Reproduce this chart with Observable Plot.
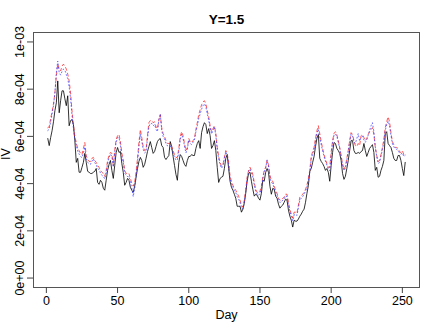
<!DOCTYPE html>
<html>
<head>
<meta charset="utf-8">
<script src="https://cdn.jsdelivr.net/npm/d3@7"></script>
<script src="https://cdn.jsdelivr.net/npm/@observablehq/plot@0.6"></script>
<style>
  html, body { margin: 0; padding: 0; background: #fff; }
  #chart svg { display: block; }
</style>
</head>
<body>
<div id="chart"></div>
<script>
// Values in units of 1e-4
const ivBlack = [
5.91,5.61,5.95,6.24,6.62,7.09,7.42,8.35,7.00,7.51,
7.93,7.93,7.59,7.30,7.72,6.45,6.67,6.71,6.50,5.82,
4.90,5.07,4.48,4.48,4.69,4.90,5.28,4.90,4.52,4.48,
4.43,4.43,4.48,4.52,4.64,4.05,3.97,4.14,4.05,3.80,
3.72,4.14,4.56,4.81,4.98,4.56,4.22,4.77,5.32,5.53,
5.32,5.36,4.85,4.48,3.93,4.05,4.22,4.14,3.84,3.72,
3.63,3.89,4.27,4.64,4.94,5.11,4.98,4.69,4.81,5.07,
5.36,5.57,5.78,5.53,5.28,5.36,5.57,5.78,5.87,5.91,
5.61,5.53,5.11,5.02,5.11,5.19,5.78,5.57,5.15,4.77,
4.39,4.14,4.90,5.23,5.15,4.98,4.81,4.73,4.98,5.15,
5.15,5.23,5.19,5.19,5.49,5.70,5.82,5.49,6.16,6.41,
6.58,6.50,6.12,6.33,6.03,5.49,5.61,5.82,5.40,4.69,
4.05,4.22,4.27,4.31,4.64,5.07,5.23,4.64,4.10,3.84,
3.72,3.55,3.38,3.04,3.04,3.04,2.79,2.92,3.17,3.59,
4.10,4.43,4.48,4.10,3.76,3.47,3.55,3.51,3.38,3.30,
3.59,4.14,4.10,4.48,4.64,4.48,3.89,3.55,3.80,3.76,
3.47,3.38,3.13,2.96,3.04,3.09,3.21,3.34,3.30,2.88,
2.62,2.45,2.16,2.45,2.41,2.41,2.50,2.62,2.71,2.83,
2.92,3.21,3.59,3.93,4.52,4.64,4.90,5.15,5.57,5.91,
6.08,5.07,4.94,4.85,4.73,4.56,4.64,4.48,4.10,4.77,
5.32,5.74,5.70,5.49,5.40,5.28,4.98,4.43,4.18,4.31,
4.64,4.98,5.40,5.82,5.82,5.40,5.28,5.28,5.32,5.28,
5.36,5.40,5.70,5.40,5.15,5.32,5.49,5.57,5.65,5.32,
4.56,4.69,4.27,4.31,4.56,4.73,4.98,6.12,6.20,5.70,
5.61,5.53,5.32,5.07,4.98,4.98,5.19,5.19,4.98,4.64,
4.34,4.90];

const ivRed = [
6.37,6.41,6.75,7.04,7.38,7.84,8.56,9.06,8.85,8.77,
8.98,9.06,8.98,8.85,8.64,8.35,7.84,7.09,6.50,6.00,
5.74,5.49,5.40,5.28,5.23,5.49,5.74,5.19,5.02,4.94,
4.94,5.07,5.11,4.98,4.90,4.77,4.69,4.56,4.48,4.43,
4.31,4.56,4.98,5.19,5.32,5.28,4.77,5.40,5.87,6.03,
6.08,5.78,5.28,5.02,4.56,4.43,4.43,4.43,4.22,4.01,
3.89,4.05,4.48,5.07,5.74,6.29,5.95,5.57,5.40,5.44,
6.03,6.58,6.67,6.67,6.58,6.62,6.41,6.33,6.71,6.92,
6.37,6.12,5.99,5.82,5.70,5.70,5.70,5.57,5.40,5.23,
5.11,5.11,5.49,5.99,6.20,6.03,5.70,5.40,5.53,5.91,
5.78,5.74,5.82,5.91,6.29,6.58,6.92,7.13,7.34,7.46,
7.51,7.38,7.09,6.83,6.45,6.20,6.33,6.45,6.12,5.53,
5.15,4.90,4.73,4.81,5.11,5.40,5.28,4.90,4.31,4.10,
3.93,3.80,3.72,3.59,3.47,3.30,3.09,3.00,3.30,3.72,
4.27,4.56,4.69,4.56,4.39,4.05,3.76,3.63,3.59,3.68,
3.89,4.27,4.56,4.69,4.98,4.81,4.35,4.14,4.10,3.89,
3.72,3.59,3.38,3.30,3.30,3.38,3.42,3.55,3.55,3.21,
2.92,2.71,2.54,2.79,2.79,2.75,3.09,3.42,3.47,3.55,
3.63,3.76,3.93,4.22,4.56,5.15,5.36,5.53,5.91,6.24,
6.45,6.12,5.78,5.49,5.23,5.02,4.85,4.69,4.69,5.32,
5.82,6.12,6.20,6.08,5.82,5.53,5.19,4.85,4.60,4.73,
5.07,5.40,5.82,6.16,6.08,5.82,5.61,5.57,5.70,5.61,
6.03,6.08,5.95,5.82,5.91,6.08,6.20,6.29,6.37,6.08,
5.53,5.19,4.94,4.98,5.23,5.53,5.87,6.37,6.62,6.83,
6.62,6.16,5.78,5.65,5.53,5.53,5.49,5.36,5.32,5.40,
5.23,5.32];

const ivBlue = [
6.25,6.30,6.62,6.95,7.30,7.85,8.70,9.19,8.70,8.60,
8.75,8.85,8.80,8.62,8.45,8.10,7.60,6.90,6.35,5.88,
5.62,5.38,5.25,5.15,5.10,5.30,5.55,5.05,4.90,4.85,
4.82,4.95,5.05,4.88,4.80,4.65,4.58,4.45,4.35,4.30,
4.20,4.45,4.85,5.10,5.25,5.15,4.70,5.30,5.75,5.95,
5.95,5.65,5.15,4.90,4.45,4.35,4.30,4.30,4.05,3.80,
3.45,3.80,4.30,4.90,5.55,6.10,5.80,5.45,5.30,5.35,
5.90,6.40,6.55,6.55,6.45,6.50,6.30,6.20,6.70,6.95,
6.25,6.00,5.88,5.70,5.60,5.62,5.60,5.45,5.28,5.12,
5.00,5.00,5.35,5.85,6.10,5.90,5.60,5.30,5.45,5.85,
5.70,5.65,5.75,5.85,6.20,6.45,6.75,6.95,7.15,7.30,
7.38,7.25,6.95,6.70,6.35,6.10,6.25,6.40,6.05,5.45,
5.05,4.80,4.65,4.75,5.05,5.35,5.20,4.80,4.20,4.00,
3.85,3.70,3.62,3.45,3.35,3.20,2.98,2.92,3.20,3.65,
4.20,4.50,4.62,4.45,4.28,3.95,3.68,3.55,3.50,3.58,
3.80,4.20,4.50,4.65,5.00,4.75,4.25,4.05,4.00,3.80,
3.62,3.50,3.28,3.20,3.22,3.30,3.35,3.48,3.45,3.10,
2.82,2.62,2.42,2.68,2.70,2.65,2.98,3.30,3.38,3.45,
3.55,3.68,3.85,4.15,4.50,5.05,5.25,5.45,5.80,6.15,
6.30,5.95,5.65,5.40,5.15,4.95,4.78,4.62,4.55,5.20,
5.75,6.05,6.10,6.00,5.75,5.50,5.15,4.78,4.55,4.65,
5.00,5.35,5.78,6.10,6.00,5.75,5.70,5.90,6.12,5.80,
5.95,6.00,5.85,5.75,5.85,6.05,6.25,6.45,6.58,6.20,
5.55,5.15,4.85,4.90,5.15,5.45,5.75,6.25,6.50,6.65,
6.45,6.05,5.70,5.55,5.48,5.45,5.40,5.30,5.25,5.30,
5.15,5.20];

const xTicks = [0, 50, 100, 150, 200, 250];
const yTicks = [0, 2e-4, 4e-4, 6e-4, 8e-4, 1e-3];
const titleText = "Y=1.5";
const xLabel = "Day";
const yLabel = "IV";

const toRows = (arr) => arr.map((v, i) => ({day: i + 1, iv: v * 1e-4}));
const black = toRows(ivBlack);
const red = toRows(ivRed);
const blue = toRows(ivBlue);

const fmtExp = (d) => d.toExponential(0).replace(/e([+-])(\d)$/, "e$10$2");
const FS = 12.5;

const chart = Plot.plot({
  width: 436,
  height: 327,
  marginLeft: 33,
  marginRight: 17,
  marginTop: 32,
  marginBottom: 40,
  style: {fontFamily: "'Liberation Sans', Arial, Helvetica, sans-serif", background: "#fff", color: "#000"},
  x: {domain: [-9.04, 262.04]},
  y: {domain: [-0.4e-4, 10.4e-4]},
  marks: [
    Plot.line(black, {x: "day", y: "iv", stroke: "black", strokeWidth: 0.8}),
    Plot.line(red, {x: "day", y: "iv", stroke: "#ff2020", strokeWidth: 0.75, strokeDasharray: "3,3"}),
    Plot.line(blue, {x: "day", y: "iv", stroke: "#3030ff", strokeWidth: 0.7, strokeDasharray: "1,2.5"}),
    Plot.frame({stroke: "#555", strokeWidth: 1}),
    Plot.axisX({ticks: xTicks, tickSize: 6, tickPadding: 3, fontSize: FS, label: null, tickFormat: d => String(d), stroke: "#444"}),
    Plot.axisY({ticks: yTicks, tickSize: 6, tickFormat: () => "", label: null, stroke: "#444"}),
    Plot.text(yTicks, {y: d => d, frameAnchor: "left", dx: -14, rotate: -90, text: fmtExp, fontSize: FS, textAnchor: "middle"}),
    Plot.text([titleText], {frameAnchor: "top", dy: -18, text: d => d, fontWeight: "bold", fontSize: 13.5}),
    Plot.text([xLabel], {frameAnchor: "bottom", dy: 31, text: d => d, fontSize: FS}),
    Plot.text([yLabel], {frameAnchor: "left", dx: -28, rotate: -90, text: d => d, fontSize: FS})
  ]
});
document.getElementById("chart").appendChild(chart);
</script>
</body>
</html>
